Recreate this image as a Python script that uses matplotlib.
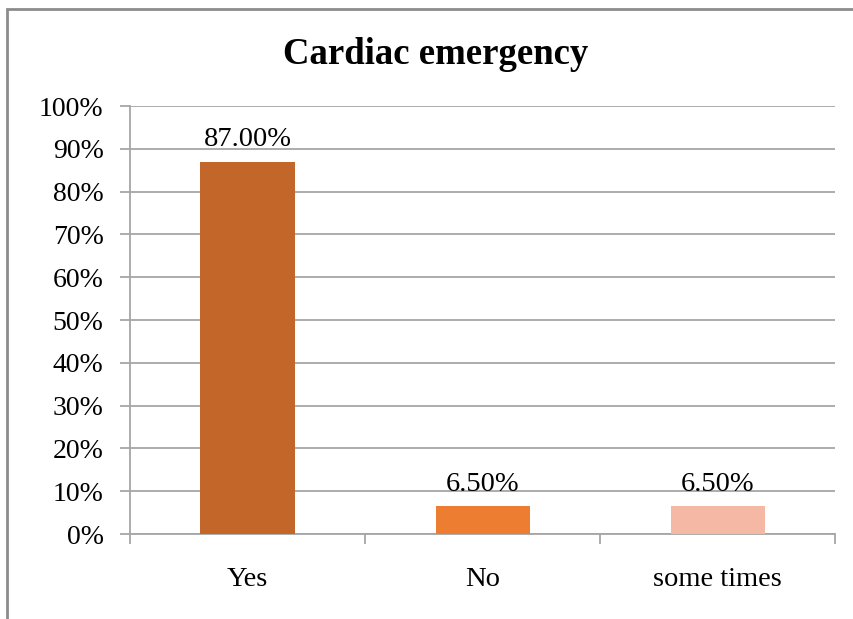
import matplotlib.pyplot as plt
from matplotlib.patches import Rectangle
from matplotlib.ticker import FixedLocator, PercentFormatter

# data
categories = ["Yes", "No", "some times"]
values = [87.0, 6.5, 6.5]
bar_colors = ["#C3662A", "#ED7D31", "#F4B8A4"]
y_ticks = list(range(0, 101, 10))

plt.rcParams["font.family"] = ["Liberation Serif", "DejaVu Serif"]
grid_color = "#A6A6A6"

fig = plt.figure(figsize=(8.54, 6.19), dpi=100)
ax = fig.add_axes([130 / 854, 1 - 534 / 619, 705 / 854, 428 / 619])

x = range(len(categories))
bars = ax.bar(x, values, width=0.4, color=bar_colors, zorder=3)
for b, v in zip(bars, values):
    ax.text(b.get_x() + b.get_width() / 2, v + 2.2, f"{v:.2f}%",
            ha="center", va="bottom", fontsize=20.5)

ax.set_xlim(-0.5, len(categories) - 0.5)
ax.set_ylim(0, 100)
ax.set_yticks(y_ticks)
ax.yaxis.set_major_formatter(PercentFormatter(decimals=0))
ax.set_xticks(list(x))
ax.set_xticklabels(categories)
ax.xaxis.set_minor_locator(FixedLocator([i - 0.5 for i in range(len(categories) + 1)]))

ax.grid(axis="y", color=grid_color, linewidth=1.3, zorder=0)
for s in ["top", "right"]:
    ax.spines[s].set_visible(False)
for s in ["left", "bottom"]:
    ax.spines[s].set_color(grid_color)
    ax.spines[s].set_linewidth(1.3)

ax.tick_params(axis="y", length=7, width=1.3, color=grid_color, labelsize=20, pad=12)
ax.tick_params(axis="x", which="major", length=0, labelsize=20.5, pad=24)
ax.tick_params(axis="x", which="minor", length=7, width=1.3, color=grid_color)

fig.text(436 / 854, 1 - 54 / 619, "Cardiac emergency", ha="center", va="center",
         fontsize=26.5, fontweight="bold")

# outer chart border (only top and left visible in the reference)
fig.patches.append(Rectangle((7 / 854, -0.2), 1.5, 1.2 - 9 / 619,
                             transform=fig.transFigure, fill=False,
                             edgecolor="#8C8C8C", linewidth=2))

fig.savefig("out.png", dpi=100)
